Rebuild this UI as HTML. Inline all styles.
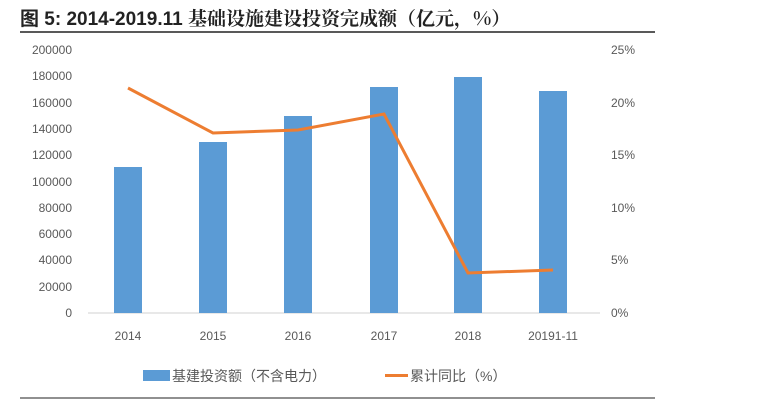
<!DOCTYPE html>
<html><head><meta charset="utf-8"><style>
body{margin:0;background:#fff;width:780px;height:409px;overflow:hidden}
svg{display:block}
text{font-family:"Liberation Sans","Noto Sans CJK SC",sans-serif;fill:#595959}
</style></head><body>
<svg width="780" height="409" viewBox="0 0 780 409">
<text x="20" y="25" font-size="19" font-weight="bold" style="fill:#222">图 5:  2014-2019.11 <tspan style="font-family:'Noto Serif CJK SC',serif" font-weight="bold">基础设施建设投资完成额（亿元，%）</tspan></text>
<line x1="20" y1="32" x2="655" y2="32" stroke="#222" stroke-width="1.5"/>
<line x1="88" y1="313" x2="600" y2="313" stroke="#d0d0d0"/>
<g font-size="12" text-anchor="end">
<text x="72" y="54">200000</text><text x="72" y="80">180000</text><text x="72" y="107">160000</text><text x="72" y="133">140000</text><text x="72" y="159">120000</text><text x="72" y="186">100000</text><text x="72" y="212">80000</text><text x="72" y="238">60000</text><text x="72" y="264">40000</text><text x="72" y="291">20000</text><text x="72" y="317">0</text>
</g>
<g font-size="12">
<text x="611" y="54">25%</text><text x="611" y="107">20%</text><text x="611" y="159">15%</text><text x="611" y="212">10%</text><text x="611" y="264">5%</text><text x="611" y="317">0%</text>
</g>
<g fill="#5b9bd5">
<rect x="114" y="167" width="28" height="146"/>
<rect x="199" y="142" width="28" height="171"/>
<rect x="284" y="116" width="28" height="197"/>
<rect x="370" y="87" width="28" height="226"/>
<rect x="454" y="77" width="28" height="236"/>
<rect x="539" y="91" width="28" height="222"/>
</g>
<polyline points="128,88 213,133 298,130 384,114 468,273 553,270" fill="none" stroke="#ed7d31" stroke-width="3"/>
<g font-size="12" text-anchor="middle">
<text x="128" y="340">2014</text><text x="213" y="340">2015</text><text x="298" y="340">2016</text><text x="384" y="340">2017</text><text x="468" y="340">2018</text><text x="553" y="340">20191-11</text>
</g>
<rect x="143" y="370" width="27" height="11" fill="#5b9bd5"/>
<text x="172" y="381" font-size="14">基建投资额（不含电力）</text>
<line x1="385" y1="375.5" x2="408" y2="375.5" stroke="#ed7d31" stroke-width="3"/>
<text x="410" y="381" font-size="14">累计同比（%）</text>
<line x1="20" y1="398" x2="655" y2="398" stroke="#222" stroke-width="1"/>
</svg>
</body></html>
